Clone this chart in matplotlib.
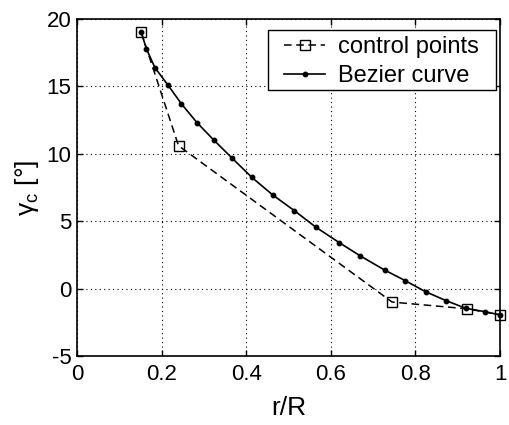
import matplotlib
matplotlib.use("Agg")
import matplotlib.pyplot as plt
from matplotlib.patches import Rectangle

plt.rcParams['font.family'] = ['Liberation Sans', 'DejaVu Sans']

# control points
ctrl_x = [0.152, 0.24, 0.745, 0.923, 1.0]
ctrl_y = [19.0, 10.6, -1.0, -1.5, -1.95]

# Bezier curve sampled points
bez_x = [0.152, 0.164, 0.184, 0.215, 0.247, 0.284, 0.324, 0.367, 0.413, 0.463,
         0.514, 0.565, 0.620, 0.670, 0.727, 0.776, 0.824, 0.873, 0.919, 0.964, 1.0]
bez_y = [19.0, 17.8, 16.4, 15.1, 13.7, 12.3, 11.0, 9.67, 8.26, 6.94,
         5.78, 4.55, 3.41, 2.42, 1.38, 0.59, -0.23, -0.90, -1.46, -1.71, -1.95]

x_ticks = [0, 0.2, 0.4, 0.6, 0.8, 1]
x_labels = ['0', '0.2', '0.4', '0.6', '0.8', '1']
y_ticks = [-5, 0, 5, 10, 15, 20]
y_labels = ['-5', '0', '5', '10', '15', '20']

W, H = 509, 425
L, R, T, B = 77, 500, 19, 356
fig = plt.figure(figsize=(W/100, H/100), dpi=100)
ax = fig.add_axes([L/W, (H-B)/H, (R-L)/W, (B-T)/H])

ax.plot(ctrl_x, ctrl_y, color='black', linestyle=(0, (5, 3)), linewidth=1.1,
        marker='s', markersize=7, markerfacecolor='none', markeredgecolor='black',
        markeredgewidth=1.0, label='control points', clip_on=False, zorder=3)
ax.plot(bez_x, bez_y, color='black', linestyle='-', linewidth=1.2,
        marker='o', markersize=3.2, label='Bezier curve', clip_on=False, zorder=4)

ax.set_xlim(0, 1)
ax.set_ylim(-5, 20)
ax.set_xticks(x_ticks)
ax.set_xticklabels(x_labels)
ax.set_yticks(y_ticks)
ax.set_yticklabels(y_labels)
ax.tick_params(direction='in', top=True, right=True, labelsize=16, length=4, width=1)
ax.tick_params(axis='x', pad=6)
ax.tick_params(axis='y', pad=4)
ax.grid(True, color='black', linestyle=(0, (1, 3)), linewidth=0.8)
for s in ax.spines.values():
    s.set_linewidth(1.2)

ax.set_xlabel('r/R', fontsize=19, labelpad=8)
ax.set_ylabel(r'$\mathregular{\gamma_c}$ [°]', fontsize=19, labelpad=4)

# legend frame (pixel box 268..496 x 30..90)
fx0 = (268 - L) / (R - L)
fx1 = (496 - L) / (R - L)
fy1 = (B - 30) / (B - T)
fy0 = (B - 90) / (B - T)
ax.add_patch(Rectangle((fx0, fy0), fx1 - fx0, fy1 - fy0, transform=ax.transAxes,
                       facecolor='white', edgecolor='black', linewidth=1.0, zorder=5))

leg = ax.legend(loc='upper left', bbox_to_anchor=((284 - L) / (R - L), (B - 36) / (B - T)),
                fontsize=17, frameon=False, handlelength=1.75,
                borderaxespad=0, borderpad=0, labelspacing=0.3, handletextpad=0.55)
leg.set_zorder(6)

fig.savefig('out.png', dpi=100)
